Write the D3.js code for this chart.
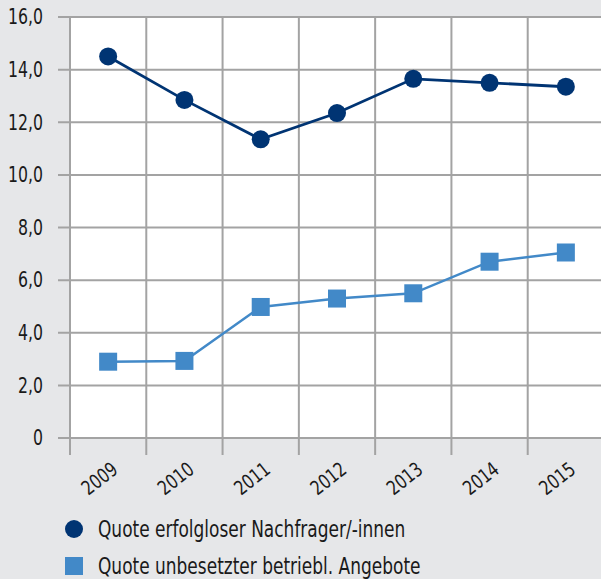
<!DOCTYPE html>
<html>
<head>
<meta charset="utf-8">
<script src="https://cdn.jsdelivr.net/npm/d3@7"></script>
<style>
  body { margin: 0; background: #e6e7e9; }
  text { font-family: "DejaVu Sans Condensed", "Liberation Sans Narrow", sans-serif; fill: #1a1a1a; }
</style>
</head>
<body>
<script>
// Data
var years = ['2009', '2010', '2011', '2012', '2013', '2014', '2015'];
var nachfrager = [14.5, 12.85, 11.35, 12.35, 13.65, 13.5, 13.35];
var angebote = [2.9, 2.93, 4.98, 5.3, 5.5, 6.7, 7.05];
var yTicks = [0, 2, 4, 6, 8, 10, 12, 14, 16];
var legendLabels = ['Quote erfolgloser Nachfrager/-innen', 'Quote unbesetzter betriebl. Angebote'];

var svgWidth = 601;
var svgHeight = 579;

var margin = { top: 17, right: -3, bottom: 141, left: 70 };
var chartWidth = svgWidth - margin.left - margin.right;
var chartHeight = svgHeight - margin.top - margin.bottom;

var svg = d3.select('body').append('svg')
  .attr('width', svgWidth)
  .attr('height', svgHeight);

svg.append('rect')
  .attr('width', svgWidth)
  .attr('height', svgHeight)
  .attr('fill', '#e6e7e9');

var chart = svg.append('g')
  .attr('transform', `translate(${margin.left}, ${margin.top})`);

var xScale = d3.scaleBand()
  .domain(years)
  .range([0, chartWidth]);

var yScale = d3.scaleLinear()
  .domain([0, 16])
  .range([chartHeight, 0]);

// plot background
chart.append('rect')
  .attr('width', chartWidth)
  .attr('height', chartHeight)
  .attr('fill', '#ffffff');

var gridColor = '#a3a3a3';

// horizontal grid + y labels
chart.selectAll('.hgrid')
  .data(yTicks)
  .enter()
  .append('line')
  .attr('x1', -12)
  .attr('x2', chartWidth)
  .attr('y1', function(d) { return yScale(d); })
  .attr('y2', function(d) { return yScale(d); })
  .attr('stroke', gridColor)
  .attr('stroke-width', 2);

chart.selectAll('.ylab')
  .data(yTicks)
  .enter()
  .append('text')
  .attr('transform', function(d) { return `translate(-27, ${yScale(d)}) scale(0.92, 1.1)`; })
  .attr('dy', '0.35em')
  .attr('text-anchor', 'end')
  .attr('font-size', 19)
  .text(function(d) { return d === 0 ? '0' : d3.format('.1f')(d).replace('.', ','); });

// vertical grid lines at band edges
var edges = years.map(function(d) { return xScale(d); }).concat([chartWidth]);
chart.selectAll('.vgrid')
  .data(edges)
  .enter()
  .append('line')
  .attr('x1', function(d) { return d; })
  .attr('x2', function(d) { return d; })
  .attr('y1', 0)
  .attr('y2', chartHeight + 17)
  .attr('stroke', gridColor)
  .attr('stroke-width', 2);

// x labels
chart.selectAll('.xlab')
  .data(years)
  .enter()
  .append('text')
  .attr('transform', function(d) {
    return `translate(${xScale(d) + xScale.bandwidth() / 2 + 11}, ${chartHeight + 34}) rotate(-38) scale(0.9, 1.05)`;
  })
  .attr('text-anchor', 'end')
  .attr('font-size', 19)
  .text(function(d) { return d; });

var cx = function(d, i) { return xScale(years[i]) + xScale.bandwidth() / 2; };

// Series 1
var line = d3.line()
  .x(function(d, i) { return cx(d, i); })
  .y(function(d) { return yScale(d); });

chart.append('path')
  .datum(nachfrager)
  .attr('d', line)
  .attr('fill', 'none')
  .attr('stroke', '#003473')
  .attr('stroke-width', 2.8);

chart.selectAll('.dot')
  .data(nachfrager)
  .enter()
  .append('circle')
  .attr('cx', cx)
  .attr('cy', function(d) { return yScale(d); })
  .attr('r', 9)
  .attr('fill', '#003473');

// Series 2
chart.append('path')
  .datum(angebote)
  .attr('d', line)
  .attr('fill', 'none')
  .attr('stroke', '#4289c8')
  .attr('stroke-width', 2.5);

chart.selectAll('.sq')
  .data(angebote)
  .enter()
  .append('rect')
  .attr('x', function(d, i) { return cx(d, i) - 9; })
  .attr('y', function(d) { return yScale(d) - 9; })
  .attr('width', 18)
  .attr('height', 18)
  .attr('fill', '#4289c8');

// Legend
svg.append('circle')
  .attr('cx', 74)
  .attr('cy', 529)
  .attr('r', 9)
  .attr('fill', '#003473');

svg.append('rect')
  .attr('x', 65)
  .attr('y', 557)
  .attr('width', 18)
  .attr('height', 18)
  .attr('fill', '#4289c8');

svg.selectAll('.leg')
  .data(legendLabels)
  .enter()
  .append('text')
  .attr('transform', function(d, i) { return `translate(98, ${537 + i * 37}) scale(0.9, 1.08)`; })
  .attr('font-size', 21)
  .text(function(d) { return d; });
</script>
</body>
</html>
